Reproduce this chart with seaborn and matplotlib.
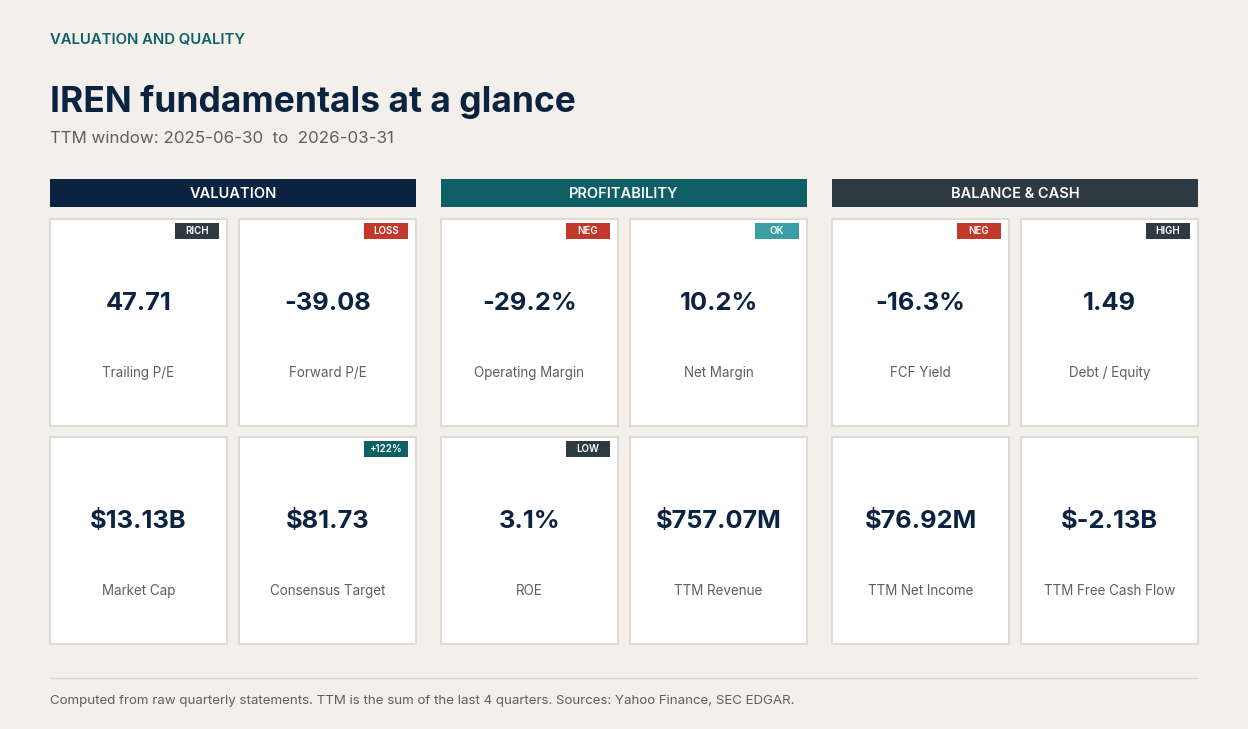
# iren_fundamentals_card.py

import pandas as pd
import numpy as np
import matplotlib.pyplot as plt
import seaborn as sns
from matplotlib.patches import Rectangle

sns.set_theme(style="white")
plt.rcParams['font.family'] = ['Inter', 'DejaVu Sans']

# ========== DATA ==========
panels = [
    {"name": "VALUATION", "color": "#0b2340", "x": 50},
    {"name": "PROFITABILITY", "color": "#0e5f66", "x": 441},
    {"name": "BALANCE & CASH", "color": "#2e3a42", "x": 832},
]
cards = pd.DataFrame([
    # panel, col, row, value, label, badge, badge colour
    (0, 0, 0, "47.71", "Trailing P/E", "RICH", "#2e3a42"),
    (0, 1, 0, "-39.08", "Forward P/E", "LOSS", "#c0392b"),
    (0, 0, 1, "$13.13B", "Market Cap", None, None),
    (0, 1, 1, "$81.73", "Consensus Target", "+122%", "#0e5f66"),
    (1, 0, 0, "-29.2%", "Operating Margin", "NEG", "#c0392b"),
    (1, 1, 0, "10.2%", "Net Margin", "OK", "#3a9ea5"),
    (1, 0, 1, "3.1%", "ROE", "LOW", "#2e3a42"),
    (1, 1, 1, "$757.07M", "TTM Revenue", None, None),
    (2, 0, 0, "-16.3%", "FCF Yield", "NEG", "#c0392b"),
    (2, 1, 0, "1.49", "Debt / Equity", "HIGH", "#2e3a42"),
    (2, 0, 1, "$76.92M", "TTM Net Income", None, None),
    (2, 1, 1, "$-2.13B", "TTM Free Cash Flow", None, None),
], columns=["panel", "col", "row", "value", "label", "badge", "badge_color"])

bg = "#f3f0eb"
ink = "#0b2340"
grey = "#5f5f5f"

# ========== FIGURE ==========
fig = plt.figure(figsize=(12.48, 7.29), dpi=100, facecolor=bg)
ax = fig.add_axes([0, 0, 1, 1])
ax.set_xlim(0, 1248)
ax.set_ylim(729, 0)
ax.axis('off')
ax.set_facecolor(bg)

ax.text(50, 40, "VALUATION AND QUALITY", color="#0e5f66", fontsize=10.7,
        fontweight='semibold', va='center')
ax.text(50, 102, "IREN fundamentals at a glance", color=ink, fontsize=25.5,
        fontweight='bold', va='center')
ax.text(50, 138, "TTM window: 2025-06-30  to  2026-03-31", color=grey,
        fontsize=12.2, va='center')

# ========== PANELS ==========
card_w, card_h = 177, 207
for p in panels:
    ax.add_patch(Rectangle((p["x"], 179), 366, 28, color=p["color"], lw=0))
    ax.text(p["x"] + 183, 193.5, p["name"], color="white", fontsize=10.5,
            fontweight='semibold', ha='center', va='center')

for _, c in cards.iterrows():
    x0 = panels[c["panel"]]["x"] + c["col"] * 189
    y0 = 219 + c["row"] * 218
    ax.add_patch(Rectangle((x0, y0), card_w, card_h, facecolor="white",
                           edgecolor="#e0dcd5", lw=1.5))
    ax.text(x0 + card_w / 2, y0 + 84, c["value"], color=ink, fontsize=18.3,
            fontweight='bold', ha='center', va='center')
    ax.text(x0 + card_w / 2, y0 + 154, c["label"], color=grey, fontsize=9.7,
            ha='center', va='center')
    if c["badge"]:
        bw = 44
        ax.add_patch(Rectangle((x0 + card_w - 8 - bw, y0 + 4), bw, 16,
                               color=c["badge_color"], lw=0))
        ax.text(x0 + card_w - 8 - bw / 2, y0 + 12, c["badge"], color="white",
                fontsize=7, fontweight='semibold', ha='center', va='center')

# ========== FOOTER ==========
ax.plot([50, 1198], [678, 678], color="#dcd7cf", lw=1)
ax.text(50, 701, "Computed from raw quarterly statements. TTM is the sum of the last 4 quarters. "
        "Sources: Yahoo Finance, SEC EDGAR.", color=grey, fontsize=9.6, va='center')

plt.savefig("out.png", dpi=100, facecolor=bg)
plt.close()
